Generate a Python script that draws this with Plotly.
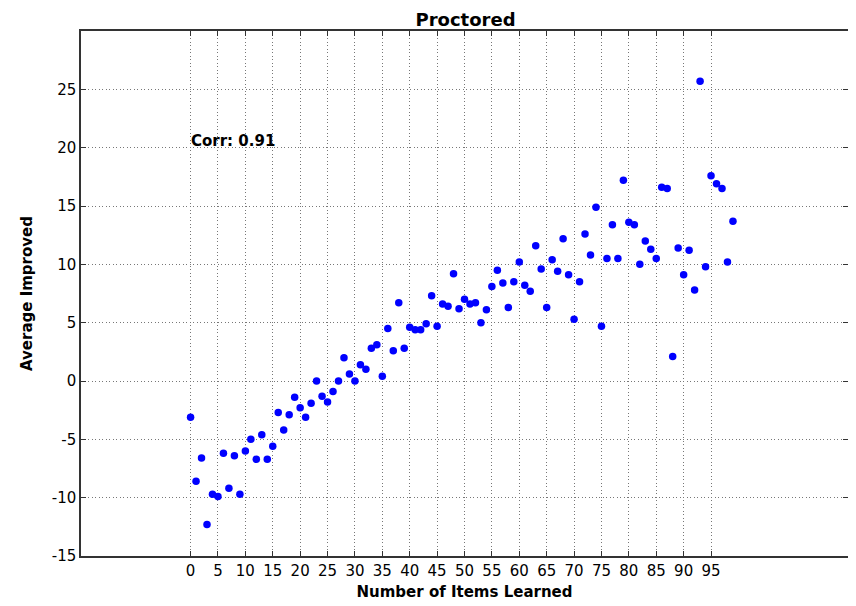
import plotly.graph_objects as go

items_learned = list(range(100))
avg_improved = [
    -3.1, -8.6, -6.6, -12.3, -9.7, -9.9, -6.2, -9.2, -6.4, -9.7,
    -6.0, -5.0, -6.7, -4.6, -6.7, -5.6, -2.7, -4.2, -2.9, -1.4,
    -2.3, -3.1, -1.9, 0.0, -1.3, -1.8, -0.9, 0.0, 2.0, 0.6,
    0.0, 1.4, 1.0, 2.8, 3.1, 0.4, 4.5, 2.6, 6.7, 2.8,
    4.6, 4.4, 4.4, 4.9, 7.3, 4.7, 6.6, 6.4, 9.2, 6.2,
    7.0, 6.6, 6.7, 5.0, 6.1, 8.1, 9.5, 8.4, 6.3, 8.5,
    10.2, 8.2, 7.7, 11.6, 9.6, 6.3, 10.4, 9.4, 12.2, 9.1,
    5.3, 8.5, 12.6, 10.8, 14.9, 4.7, 10.5, 13.4, 10.5, 17.2,
    13.6, 13.4, 10.0, 12.0, 11.3, 10.5, 16.6, 16.5, 2.1, 11.4,
    9.1, 11.2, 7.8, 25.7, 9.8, 17.6, 16.9, 16.5, 10.2, 13.7,
]
x_ticks = list(range(0, 100, 5))
y_ticks = list(range(-15, 30, 5))
corr_label = "Corr: 0.91"

fig = go.Figure(
    go.Scatter(
        x=items_learned, y=avg_improved, mode="markers",
        marker=dict(color="#0000FF", size=7.5, line=dict(width=0)),
        showlegend=False,
    )
)

axis_common = dict(
    showline=True, linecolor="#333333", linewidth=1.5, mirror="allticks",
    ticks="inside", ticklen=5, tickcolor="#333333", tickwidth=1,
    showgrid=True, gridcolor="#777777", gridwidth=1, griddash="1px,2.5px",
    zeroline=False,
    tickfont=dict(family="DejaVu Sans", size=15, color="#000000"),
)

fig.update_xaxes(
    range=[-20, 120], tickvals=x_ticks, ticktext=[str(v) for v in x_ticks],
    title=dict(text="<b>Number of Items Learned</b>", font=dict(family="DejaVu Sans", size=15, color="#000"), standoff=8),
    **axis_common,
)
fig.update_yaxes(
    range=[-15, 30], tickvals=y_ticks, ticktext=[str(v) for v in y_ticks],
    title=dict(text="<b>Average Improved</b>", font=dict(family="DejaVu Sans", size=15, color="#000"), standoff=16),
    **axis_common,
)

fig.add_annotation(
    x=0, y=20, xref="x", yref="y", text="<b>" + corr_label + "</b>",
    showarrow=False, xanchor="left", yanchor="bottom", yshift=-4, xshift=-2,
    font=dict(family="DejaVu Sans", size=15, color="#000"),
)

fig.update_layout(
    width=848, height=598,
    margin=dict(l=73, r=6, t=23, b=50),
    paper_bgcolor="white", plot_bgcolor="white",
    title=dict(text="<b>Proctored</b>", x=0.5395, xanchor="center", y=0.98, yanchor="middle",
               font=dict(family="DejaVu Sans", size=18, color="#000")),
)

fig.write_html("out.html")
